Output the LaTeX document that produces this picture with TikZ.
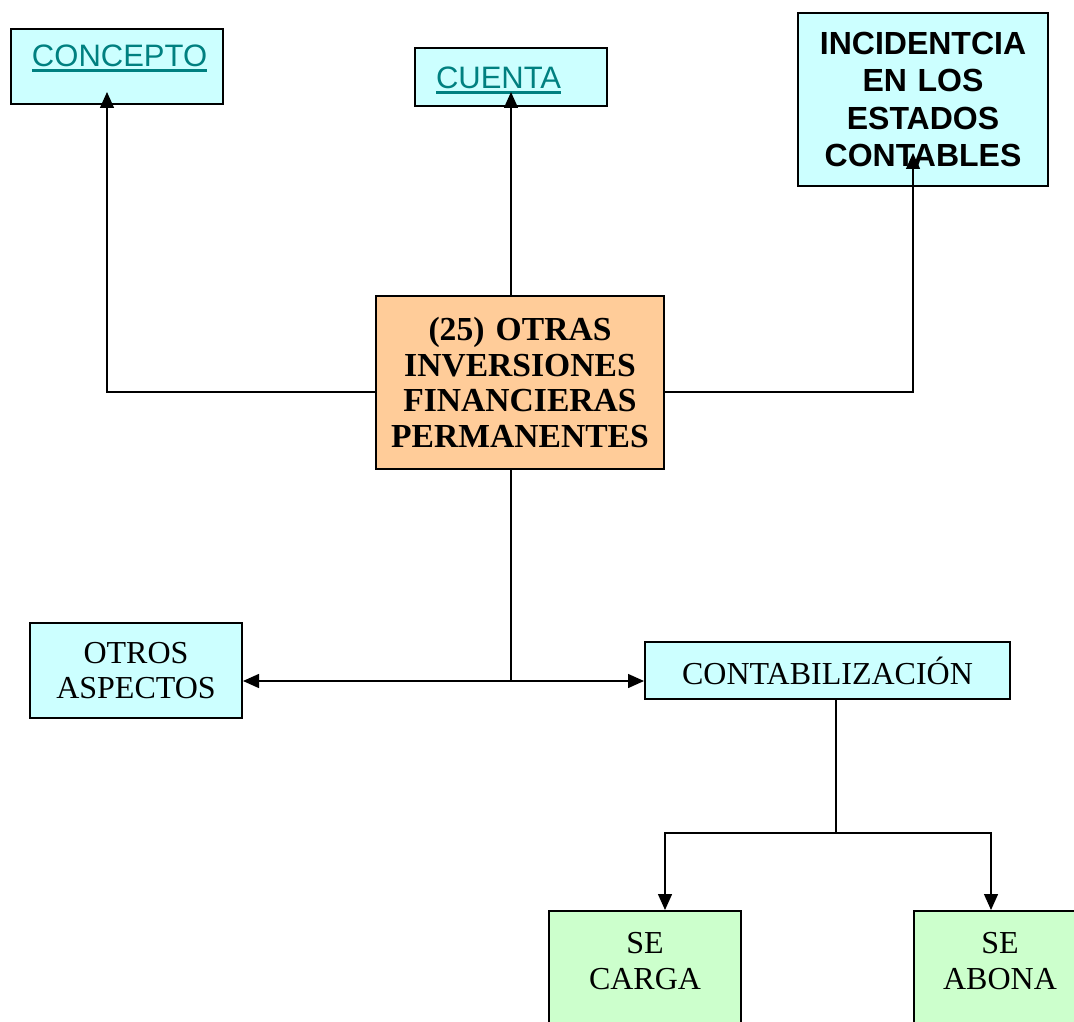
\documentclass[tikz,border=0pt]{standalone}
\usepackage{fontspec}
\setmainfont{Liberation Serif}
\newfontfamily\arialfont{Liberation Sans}
\usetikzlibrary{arrows.meta, positioning, calc}
\definecolor{boxcyan}{HTML}{CCFFFF}
\definecolor{boxorange}{HTML}{FFCC99}
\definecolor{boxgreen}{HTML}{CCFFCC}
\definecolor{linkteal}{HTML}{008080}
\newsavebox{\ulinkbox}
\newcommand{\ulink}[1]{\sbox{\ulinkbox}{#1}\rlap{\rule[-2.5pt]{\wd\ulinkbox}{1.3pt}}\usebox{\ulinkbox}}

\begin{document}
\begin{tikzpicture}[
  x=0.5pt, y=-0.5pt,
  link/.style  ={rectangle, draw=black, line width=1pt, fill=boxcyan, anchor=north west,
                 inner xsep=10.5pt, inner ysep=0pt, align=left, text=linkteal,
                 font=\arialfont\fontsize{15.5}{18}\selectfont},
  info/.style  ={rectangle, draw=black, line width=1pt, fill=boxcyan,
                 text width=115pt, align=center, minimum width=125pt, minimum height=86.5pt,
                 inner sep=5pt, font=\arialfont\bfseries\fontsize{16}{18.8}\selectfont},
  core/.style  ={rectangle, draw=black, line width=1pt, fill=boxorange,
                 text width=136pt, align=center, minimum width=144pt, minimum height=86.5pt,
                 inner sep=4pt, font=\bfseries\fontsize{16.8}{17.9}\selectfont},
  sub/.style   ={rectangle, draw=black, line width=1pt, fill=boxcyan,
                 align=center, inner sep=3pt, font=\fontsize{16}{17.5}\selectfont},
  leaf/.style  ={rectangle, draw=black, line width=1pt, fill=boxgreen, anchor=north,
                 inner xsep=0pt, inner ysep=0pt, text height=21pt, text depth=80pt,
                 font=\fontsize{16}{18}\selectfont},
  arr/.style   ={-{Triangle[length=8pt, width=7pt]}, line width=0.7pt},
  line/.style  ={line width=0.7pt},
]
\clip (0,0) rectangle (1074,1021);
\fill[white] (0,0) rectangle (1074,1021);

% --- Row 1: top boxes ---
\node[link, text width=85pt, text height=19pt, text depth=18.5pt] (concepto) at (10,28) {\ulink{CONCEPTO}};
\node[link, text width=75pt, text height=20.5pt, text depth=8.5pt] (cuenta) at (414,47) {\ulink{CUENTA}};
\node[info] (incid) at (923,99.5) {INCIDENTCIA\\EN LOS\\ESTADOS\\CONTABLES};

% --- Center ---
\node[core] (ctr) at (520,382.5) {(25) OTRAS\\INVERSIONES\\FINANCIERAS\\PERMANENTES};

% --- Row 2 ---
\node[sub, minimum width=106pt, minimum height=47.5pt] (otros) at (136,670.5) {OTROS\\ASPECTOS};
\node[sub, minimum width=182.5pt, minimum height=28.5pt] (conta) at (827.5,670.5) {CONTABILIZACIÓN};

% --- Row 3: leaves ---
\node[leaf, minimum width=96pt] (carga) at (645,910) {\begin{tabular}[t]{c}SE\\CARGA\end{tabular}};
\node[leaf, minimum width=86pt] (abona) at (1000,910) {\begin{tabular}[t]{c}SE\\ABONA\end{tabular}};

% --- Connector points ---
\coordinate (hline) at (0,392);
\coordinate (conceptoin) at (107,92);
\coordinate (cuentain) at (511,92);
\coordinate (incidin) at (913,153);
\coordinate (jn) at (511,681);
\coordinate (split) at (836,833);
\coordinate (cargain) at (665,910);
\coordinate (abonain) at (991,910);

% --- Arrows ---
\draw[arr] (ctr.west |- hline) -| (conceptoin);
\draw[arr] (ctr.north -| cuentain) -- (cuentain);
\draw[arr] (ctr.east |- hline) -| (incidin);
\draw[line] (ctr.south -| jn) -- (jn);
\draw[arr] (jn) -- (otros.east |- jn);
\draw[arr] (jn) -- (conta.west |- jn);
\draw[line] (conta.south -| split) -- (split);
\draw[arr] (split) -| (cargain);
\draw[arr] (split) -| (abonain);
\end{tikzpicture}
\end{document}
